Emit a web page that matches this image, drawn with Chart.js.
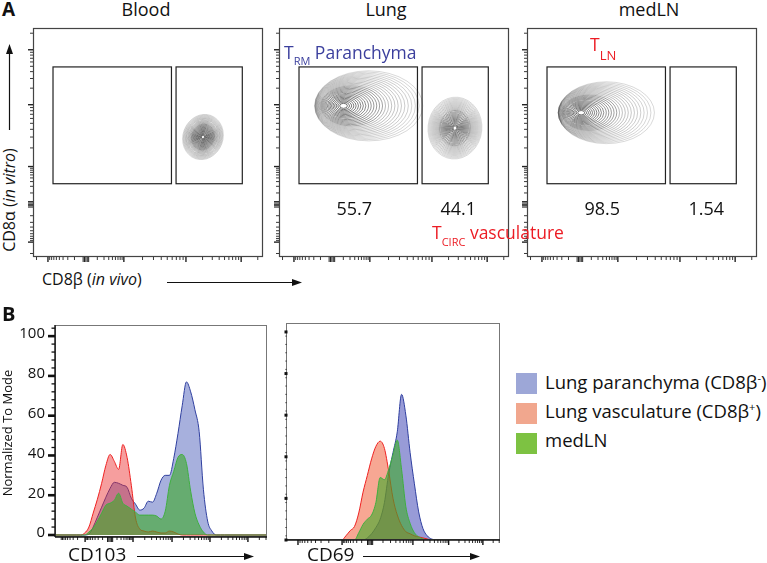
<!DOCTYPE html>
<html>
<head>
<meta charset="utf-8">
<script src="https://cdn.jsdelivr.net/npm/chart.js@4.4.1/dist/chart.umd.min.js"></script>
<style>
body{margin:0;background:#fff;font-family:"Open Sans",sans-serif;}
#wrap{position:relative;width:767px;height:563px;overflow:hidden;background:#fff;}
canvas{position:absolute;}
.t{position:absolute;white-space:nowrap;line-height:1;color:#111;}
.c{transform:translateX(-50%);}
.red{color:#ec1c24;}
.blue{color:#3b3f9d;}
.sw{position:absolute;width:21px;height:21px;}
</style>
</head>
<body>
<div id="wrap">
  <canvas id="blood" width="242" height="240" style="left:25px;top:25px"></canvas>
  <canvas id="lung" width="242" height="240" style="left:271px;top:25px"></canvas>
  <canvas id="medln" width="242" height="240" style="left:519px;top:25px"></canvas>
  <canvas id="cd103" width="256" height="226" style="left:15px;top:320px"></canvas>
  <canvas id="cd69" width="226" height="232" style="left:278px;top:318px"></canvas>

  <div class="t" style="left:2px;top:0px;font-size:19px;font-weight:bold">A</div>
  <div class="t c" style="left:146px;top:0px;font-size:18px">Blood</div>
  <div class="t c" style="left:386px;top:0px;font-size:18px">Lung</div>
  <div class="t c" style="left:649px;top:0px;font-size:18px">medLN</div>

  <div class="t blue" style="left:284px;top:44px;font-size:17.5px">T<span style="font-size:11px;vertical-align:-6px">RM</span> Paranchyma</div>
  <div class="t red" style="left:432px;top:224px;font-size:17.5px">T<span style="font-size:11px;vertical-align:-7px">CIRC</span> vasculature</div>
  <div class="t red" style="left:590px;top:36px;font-size:17.5px">T<span style="font-size:13px;vertical-align:-9px">LN</span></div>

  <div class="t" style="left:9px;top:200px;font-size:16px;transform:translate(-50%,-50%) rotate(-90deg)">CD8α (<i>in vitro</i>)</div>
  <div class="t" style="left:42px;top:271px;font-size:16px">CD8β (<i>in vivo</i>)</div>

  <div class="t" style="left:2px;top:304px;font-size:20px;font-weight:bold">B</div>
  <div class="t" style="left:7px;top:433px;font-size:13px;transform:translate(-50%,-50%) rotate(-90deg)">Normalized To Mode</div>
  <div class="t" style="left:68px;top:545px;font-size:19px">CD103</div>
  <div class="t" style="left:307px;top:545px;font-size:19px">CD69</div>

  <div class="sw" style="left:516px;top:373px;background:#9da7d7"></div>
  <div class="sw" style="left:516px;top:403px;background:#f1a78e"></div>
  <div class="sw" style="left:516px;top:433px;background:#7dc242"></div>
  <div class="t" style="left:545px;top:372px;font-size:18.5px">Lung paranchyma (CD8β<span style="font-size:11px;vertical-align:7px">-</span>)</div>
  <div class="t" style="left:545px;top:401px;font-size:18.5px">Lung vasculature (CD8β<span style="font-size:11px;vertical-align:7px">+</span>)</div>
  <div class="t" style="left:545px;top:431px;font-size:18.5px">medLN</div>

  <svg width="767" height="563" style="position:absolute;left:0;top:0;pointer-events:none">
    <g stroke="#111" stroke-width="1.2" fill="#111">
      <line x1="9.5" y1="130" x2="9.5" y2="52"/>
      <polygon points="9.5,44 6,54 13,54" stroke="none"/>
      <line x1="167" y1="282.5" x2="294" y2="282.5"/>
      <polygon points="302,282.5 292,279 292,286" stroke="none"/>
      <line x1="137" y1="556.5" x2="246" y2="556.5"/>
      <polygon points="254,556.5 244,553 244,560" stroke="none"/>
      <line x1="363" y1="556.5" x2="472" y2="556.5"/>
      <polygon points="480,556.5 470,553 470,560" stroke="none"/>
    </g>
  </svg>
</div>

<script>
// ---- panel A : CD8a (in vitro) vs CD8b (in vivo), display units 0-100
const panelIds=['blood','lung','medln'];
const freqLeft=[null,55.7,98.5];
const freqRight=[null,44.1,1.54];
const gateLeftX=[8.7,60.2];
const gateRightX=[62.2,91];
const gateY=[32,83];
// contour populations (panel index, centre, spread, drift of outer contours, tilt)
const popPanel=[0,1,1,2];
const popX=[73.9,28,76.5,23.5];
const popY=[52.4,66,56.3,63];
const popRx=[8.7,23.5,11.7,20.9];
const popRy=[10,15.3,13.5,13.5];
const popShift=[0,11,0,11];
const popTilt=[0.35,0,0.1,0];
const flowMajors=[6.5,39.5,66.5,90.5];
const flowZero=23;

// ---- panel B : histograms, normalized to mode
const yTicks=[0,20,40,60,80,100];
const cd103X=[0,10,12,14,16,18,20,22,24,26,28,30,32,34,36,38,40,42,44,46,48,50,52,54,56,58,60,62,64,66,68,70,72,74,76,78,80,100];
const cd103Par=[0,0,0,0,0.5,4,9,14,19,23.5,26.5,26,25,24,18.5,15.5,12.5,13.5,17,16.5,21,27.5,30,30,38.5,51,65,77,72,63,52,23,7,2,0,0,0,0];
const cd103Vasc=[0,0,0,1,4,11,18,26,35,40.5,37,33,45.5,39,25,8.5,3,2,1.5,2,1.5,1,1,2,1.5,0.5,0,0,0,0,0,0,0,0,0,0,0,0];
const cd103Ln=[0,0,0,0,1.5,3.5,7,11,15,16,17.5,21,16,14.5,13,11.5,10,10,10,10,9.5,8,12,25,32,39,40.5,36,22,11,5,1.5,0,0,0,0,0,0];
const cd103Majors=[14.2,36.8,55.2,73.1,91];
const cd103Zero=26;

const cd69X=[0,20,22,24,26,28,30,32,34,36,38,40,42,44,46,48,50,52,54,56,58,60,62,64,66,68,70,72,74,76,78,80,100];
const cd69Par=[0,0,0,0,0,0,0,0,0,0,1,3,6,10,18,32,42,52,70,60,42,27,13.5,5.5,2,0.5,0,0,0,0,0,0,0];
const cd69Vasc=[0,0,0,0,0,2,4.5,6.5,13,23,31,39,45,47.5,44,33,20,12,7,4,3,2,1.5,1,0.5,0,0,0,0,0,0,0,0];
const cd69Ln=[0,0,0,0,0,0,0,0,3.5,7.5,10,12,18,30,29,34,41,48,34,16,8,3.5,1.5,0.5,0,0,0,0,0,0,0,0,0];
const cd69Majors=[5.6,26.2,59.3,76,92];
const cd69Zero=39.3;

Chart.defaults.font.family='"Open Sans", sans-serif';

function minorTicks(majors,zero,hi){
  const anchors=[...majors,zero].sort((a,b)=>a-b);
  const L=[2,3,4,5,6,7,8,9].map(k=>Math.log10(k));
  const out=[];
  for(let i=0;i<anchors.length-1;i++){
    const a=anchors[i],b=anchors[i+1],w=b-a;
    L.forEach(l=>out.push(a>=zero?a+w*l:b-w*l));
  }
  const n=anchors.length,last=anchors[n-1],w1=last-anchors[n-2];
  L.forEach(l=>{const v=last+w1*l;if(v<hi)out.push(v);});
  const first=anchors[0],w0=anchors[1]-first;
  L.forEach(l=>{const v=first-w0*l;if(v>0)out.push(v);});
  return out;
}

function drawAxisTicks(ctx,scale,majors,zero,side,edge){
  const minors=minorTicks(majors,zero,100);
  const put=(v,len,w)=>{
    const p=scale.getPixelForValue(v);
    ctx.lineWidth=w;ctx.beginPath();
    if(side==='bottom'){ctx.moveTo(p,edge);ctx.lineTo(p,edge+len);}
    else{ctx.moveTo(edge,p);ctx.lineTo(edge-len,p);}
    ctx.stroke();
  };
  minors.forEach(v=>put(v,3,0.9));
  majors.forEach(v=>put(v,5,1.4));
  // dense cluster of ticks around zero
  [-1.2,-0.6,0,0.6,1.2].forEach(d=>put(zero+d,5,1));
}

const flowPanel={
  id:'flowPanel',
  afterDraw(chart,args,o){
    const {ctx,chartArea:a,scales:{x,y}}=chart;
    ctx.save();
    // contours
    ctx.beginPath();ctx.rect(a.left,a.top,a.right-a.left,a.bottom-a.top);ctx.clip();
    popPanel.forEach((p,i)=>{
      if(p!==o.panel)return;
      const n=28;
      for(let k=n;k>=2;k--){
        const t=k/n;
        const cx=x.getPixelForValue(popX[i]+popShift[i]*t*t);
        const cy=y.getPixelForValue(popY[i]);
        const rx=Math.abs(x.getPixelForValue(popRx[i]*t)-x.getPixelForValue(0));
        const ry=Math.abs(y.getPixelForValue(popRy[i]*t)-y.getPixelForValue(0));
        ctx.beginPath();ctx.ellipse(cx,cy,rx,ry,popTilt[i],0,Math.PI*2);
        ctx.strokeStyle='rgba(45,45,45,'+(0.3+0.6*(1-t)).toFixed(2)+')';
        ctx.lineWidth=t<0.6?0.8:0.6;ctx.stroke();
      }
    });
    ctx.restore();
    ctx.save();
    // gates
    ctx.strokeStyle='#222';ctx.lineWidth=1.2;
    [gateLeftX,gateRightX].forEach(g=>{
      const x0=x.getPixelForValue(g[0]),x1=x.getPixelForValue(g[1]);
      const y0=y.getPixelForValue(gateY[1]),y1=y.getPixelForValue(gateY[0]);
      ctx.strokeRect(x0,y0,x1-x0,y1-y0);
    });
    // frequencies
    ctx.fillStyle='#111';ctx.font='18px "Open Sans"';ctx.textAlign='center';
    const yb=y.getPixelForValue(gateY[0])+31;
    if(freqLeft[o.panel]!==null)ctx.fillText(String(freqLeft[o.panel]),x.getPixelForValue((gateLeftX[0]+gateLeftX[1])/2)-4,yb);
    if(freqRight[o.panel]!==null)ctx.fillText(String(freqRight[o.panel]),x.getPixelForValue((gateRightX[0]+gateRightX[1])/2)+3,yb);
    // frame and ticks
    ctx.strokeStyle='#444';ctx.lineWidth=1.2;
    ctx.strokeRect(a.left+0.5,a.top+0.5,a.right-a.left-1,a.bottom-a.top-1);
    ctx.strokeStyle='#222';ctx.fillStyle='#222';
    drawAxisTicks(ctx,x,flowMajors,flowZero,'bottom',a.bottom);
    drawAxisTicks(ctx,y,flowMajors,flowZero,'left',a.left);
    ctx.restore();
  }
};

const histAxes={
  id:'histAxes',
  afterDatasetsDraw(chart,args,o){
    const {ctx,chartArea:a,scales:{x,y}}=chart;
    ctx.save();
    ctx.strokeStyle='#777';ctx.lineWidth=1;
    ctx.strokeRect(a.left+0.5,a.top+0.5,a.right-a.left-1,a.bottom-a.top-1);
    ctx.strokeStyle='#111';ctx.fillStyle='#111';ctx.lineWidth=1.4;
    ctx.beginPath();ctx.moveTo(a.left,a.bottom);ctx.lineTo(a.right,a.bottom);ctx.stroke();
    if(o.labels){
      ctx.beginPath();ctx.moveTo(a.left,a.top);ctx.lineTo(a.left,a.bottom);ctx.stroke();
      for(let v=0;v<=104;v+=4){
        const p=y.getPixelForValue(v);
        const major=yTicks.includes(v);
        ctx.lineWidth=major?2.6:1.3;
        ctx.beginPath();ctx.moveTo(a.left,p);ctx.lineTo(a.left-(major?7:3.5),p);ctx.stroke();
      }
      ctx.font='15px "Open Sans"';ctx.textAlign='right';ctx.textBaseline='middle';
      yTicks.forEach(v=>ctx.fillText(String(v),a.left-10,y.getPixelForValue(v)-2));
    }else{
      yTicks.forEach(v=>{const p=y.getPixelForValue(v);ctx.fillRect(a.left-1.5,p-1.5,3,3);});
      for(let v=2;v<=100;v+=4){const p=y.getPixelForValue(v);ctx.fillRect(a.left-0.5,p-0.5,1,1);}
    }
    ctx.strokeStyle='#111';
    drawAxisTicks(ctx,x,o.majors,o.zero,'bottom',a.bottom);
    ctx.restore();
  }
};

panelIds.forEach((id,i)=>{
  new Chart(document.getElementById(id),{
    type:'scatter',
    data:{datasets:[{data:[]}]},
    options:{
      responsive:false,animation:false,devicePixelRatio:1,
      layout:{padding:{left:8,top:3,right:4,bottom:8}},
      scales:{x:{display:false,min:0,max:100},y:{display:false,min:0,max:100}},
      plugins:{legend:{display:false},tooltip:{enabled:false},flowPanel:{panel:i}}
    },
    plugins:[flowPanel]
  });
});

function pts(xs,ys){return xs.map((v,i)=>({x:v,y:ys[i]}));}
function series(xs,ys,fill,line){
  return {data:pts(xs,ys),backgroundColor:fill,borderColor:line,borderWidth:1,fill:'origin',
    pointRadius:0,cubicInterpolationMode:'monotone'};
}

new Chart(document.getElementById('cd103'),{
  type:'line',
  data:{datasets:[
    series(cd103X,cd103Ln,'rgba(60,170,40,0.6)','#3fae3f'),
    series(cd103X,cd103Vasc,'rgba(235,40,40,0.45)','#ee2020'),
    series(cd103X,cd103Par,'rgba(60,80,180,0.45)','#2f3f9f')
  ]},
  options:{
    responsive:false,animation:false,devicePixelRatio:1,
    layout:{padding:{left:40,top:5,right:4,bottom:9}},
    scales:{x:{type:'linear',display:false,min:0,max:100},y:{display:false,min:-1,max:105.6}},
    plugins:{legend:{display:false},tooltip:{enabled:false},
      histAxes:{labels:true,majors:cd103Majors,zero:cd103Zero}}
  },
  plugins:[histAxes]
});

new Chart(document.getElementById('cd69'),{
  type:'line',
  data:{datasets:[
    series(cd69X,cd69Ln,'rgba(60,170,40,0.6)','#3fae3f'),
    series(cd69X,cd69Vasc,'rgba(240,80,40,0.5)','#ee2020'),
    series(cd69X,cd69Par,'rgba(50,55,175,0.5)','#2f3f9f')
  ]},
  options:{
    responsive:false,animation:false,devicePixelRatio:1,
    layout:{padding:{left:8,top:5,right:4,bottom:10}},
    scales:{x:{type:'linear',display:false,min:0,max:100},y:{display:false,min:0,max:104.3}},
    plugins:{legend:{display:false},tooltip:{enabled:false},
      histAxes:{labels:false,majors:cd69Majors,zero:cd69Zero}}
  },
  plugins:[histAxes]
});
</script>
</body>
</html>
